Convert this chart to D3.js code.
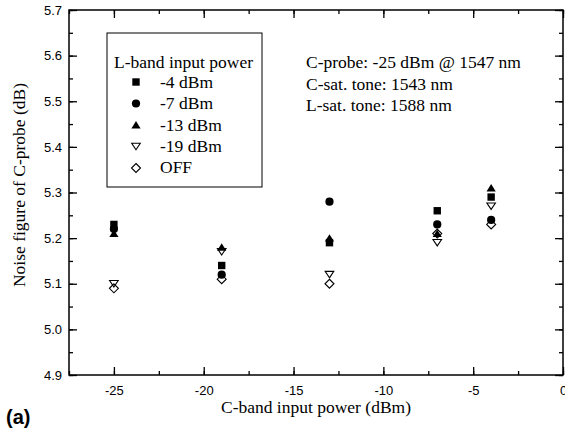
<!DOCTYPE html>
<html>
<head>
<meta charset="utf-8">
<script src="https://cdn.jsdelivr.net/npm/d3@7"></script>
<style>
  body { margin: 0; background: #fff; }
  svg text { fill: #000; }
</style>
</head>
<body>
<svg id="chart" width="565" height="430"></svg>
<script>
// Data
const cBandPower = [-25, -19, -13, -7, -4]
const seriesNames = ['-4 dBm', '-7 dBm', '-13 dBm', '-19 dBm', 'OFF']
const nfLminus4 = [5.23, 5.14, 5.19, 5.26, 5.29]
const nfLminus7 = [5.22, 5.12, 5.28, 5.23, 5.24]
const nfLminus13 = [5.21, 5.18, 5.20, 5.21, 5.31]
const nfLminus19 = [5.10, 5.17, 5.12, 5.19, 5.27]
const nfOff = [5.09, 5.11, 5.10, 5.21, 5.23]
const xTicks = [-25, -20, -15, -10, -5, 0]
const yTicks = [4.9, 5.0, 5.1, 5.2, 5.3, 5.4, 5.5, 5.6, 5.7]
const notes = ['C-probe: -25 dBm @ 1547 nm', 'C-sat. tone: 1543 nm', 'L-sat. tone: 1588 nm']

const svg = d3.select('#chart')
const plotLeft = 69, plotRight = 563, plotTop = 10, plotBottom = 375

const x = d3.scaleLinear().domain([-27.5, 0]).range([plotLeft, plotRight])
const y = d3.scaleLinear().domain([4.9, 5.7]).range([plotBottom, plotTop])

const serif = 'Liberation Serif, Times New Roman, serif'
const sans = 'Liberation Sans, Arial, sans-serif'

// axes, ticks pointing inward, mirrored on top and right
const minorX = d3.range(-27.5, 0.01, 2.5)
const minorY = d3.range(4.9, 5.701, 0.05)

function styleAxis(g) {
    g.select('.domain').remove()
    g.selectAll('line').attr('stroke', '#000').attr('stroke-width', 1.3)
}

svg.append('g').attr('transform', `translate(0,${plotBottom})`)
    .call(d3.axisBottom(x).tickValues(minorX).tickSize(-4).tickFormat(''))
    .call(styleAxis)
svg.append('g').attr('transform', `translate(0,${plotBottom})`)
    .call(d3.axisBottom(x).tickValues(xTicks).tickSize(-8).tickPadding(11).tickFormat(d => String(d)))
    .call(styleAxis)
    .call(g => g.selectAll('text').attr('font-family', sans).attr('font-size', 13))
svg.append('g').attr('transform', `translate(0,${plotTop})`)
    .call(d3.axisTop(x).tickValues(minorX).tickSize(-4).tickFormat(''))
    .call(styleAxis)
svg.append('g').attr('transform', `translate(0,${plotTop})`)
    .call(d3.axisTop(x).tickValues(xTicks).tickSize(-8).tickFormat(''))
    .call(styleAxis)

svg.append('g').attr('transform', `translate(${plotLeft},0)`)
    .call(d3.axisLeft(y).tickValues(minorY).tickSize(-4).tickFormat(''))
    .call(styleAxis)
svg.append('g').attr('transform', `translate(${plotLeft},0)`)
    .call(d3.axisLeft(y).tickValues(yTicks).tickSize(-8).tickPadding(7).tickFormat(d3.format('.1f')))
    .call(styleAxis)
    .call(g => g.selectAll('text').attr('font-family', sans).attr('font-size', 13))
svg.append('g').attr('transform', `translate(${plotRight},0)`)
    .call(d3.axisRight(y).tickValues(minorY).tickSize(-4).tickFormat(''))
    .call(styleAxis)
svg.append('g').attr('transform', `translate(${plotRight},0)`)
    .call(d3.axisRight(y).tickValues(yTicks).tickSize(-8).tickFormat(''))
    .call(styleAxis)

// frame
svg.append('rect')
    .attr('x', plotLeft).attr('y', plotTop)
    .attr('width', plotRight - plotLeft).attr('height', plotBottom - plotTop)
    .attr('fill', 'none').attr('stroke', '#000').attr('stroke-width', 1.5)

// custom symbol shapes (size = half width in px here)
const symTriUp = { draw(p, r) { p.moveTo(0, -r * 0.85); p.lineTo(r, r * 0.75); p.lineTo(-r, r * 0.75); p.closePath() } }
const symTriDown = { draw(p, r) { p.moveTo(0, r * 0.75); p.lineTo(r, -r * 0.75); p.lineTo(-r, -r * 0.75); p.closePath() } }
const symDiamond = { draw(p, r) { p.moveTo(0, -r); p.lineTo(r, 0); p.lineTo(0, r); p.lineTo(-r, 0); p.closePath() } }
const symSquare = { draw(p, r) { p.rect(-r, -r, 2 * r, 2 * r) } }
const symCircle = { draw(p, r) { p.moveTo(r, 0); p.arc(0, 0, r, 0, 2 * Math.PI) } }

const symbols = [
    { type: symSquare, r: 3.7, hollow: false },
    { type: symCircle, r: 4.1, hollow: false },
    { type: symTriUp, r: 4.6, hollow: false },
    { type: symTriDown, r: 4.3, hollow: true },
    { type: symDiamond, r: 4.5, hollow: true }
]
const seriesValues = [nfLminus4, nfLminus7, nfLminus13, nfLminus19, nfOff]

function drawMarker(g, s, cx, cy) {
    g.append('path')
        .attr('d', d3.symbol().type(s.type).size(s.r)())
        .attr('transform', `translate(${cx},${cy})`)
        .attr('fill', s.hollow ? 'none' : '#000')
        .attr('stroke', s.hollow ? '#000' : 'none')
        .attr('stroke-width', 1.1)
}

seriesValues.forEach((vals, i) => {
    const g = svg.append('g')
    vals.forEach((v, j) => drawMarker(g, symbols[i], x(cBandPower[j]), y(v)))
})

// legend
const legend = svg.append('g')
legend.append('rect')
    .attr('x', 107).attr('y', 33).attr('width', 155).attr('height', 154)
    .attr('fill', '#fff').attr('stroke', '#000').attr('stroke-width', 1)
legend.append('text')
    .attr('x', 114).attr('y', 68)
    .attr('font-family', serif).attr('font-size', 17.5)
    .text('L-band input power')
seriesNames.forEach((name, i) => {
    drawMarker(legend, symbols[i], 136, 82 + i * 21.5)
    legend.append('text')
        .attr('x', 160).attr('y', 88 + i * 21.3)
        .attr('font-family', serif).attr('font-size', 17.5)
        .text(name)
})

// annotation
notes.forEach((t, i) => {
    svg.append('text')
        .attr('x', 306).attr('y', 68 + i * 21.5)
        .attr('font-family', serif).attr('font-size', 17.5)
        .text(t)
})

// axis titles
svg.append('text')
    .attr('x', (plotLeft + plotRight) / 2).attr('y', 413)
    .attr('text-anchor', 'middle')
    .attr('font-family', serif).attr('font-size', 17.5)
    .text('C-band input power (dBm)')
svg.append('text')
    .attr('transform', `translate(25,185) rotate(-90)`)
    .attr('text-anchor', 'middle')
    .attr('font-family', serif).attr('font-size', 17.5)
    .text('Noise figure of C-probe (dB)')

svg.append('text')
    .attr('x', 6).attr('y', 424)
    .attr('font-family', sans).attr('font-size', 20).attr('font-weight', 'bold')
    .text('(a)')
</script>
</body>
</html>
